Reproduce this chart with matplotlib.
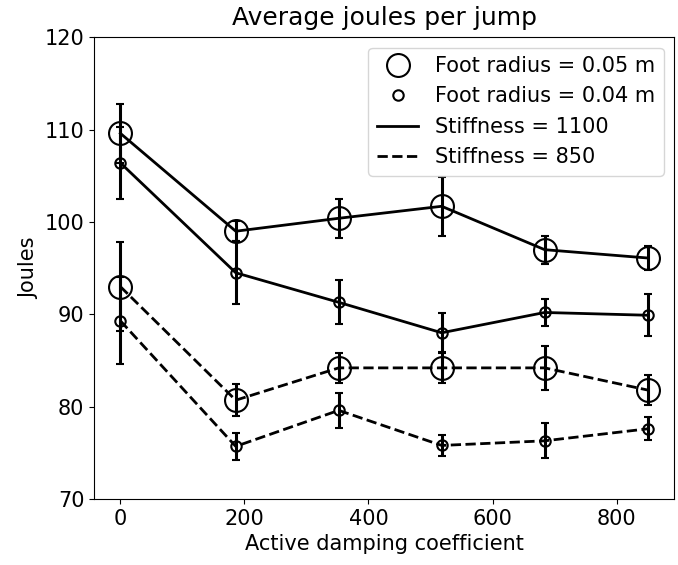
import matplotlib
matplotlib.use("Agg")
import matplotlib.pyplot as plt
from matplotlib.lines import Line2D

damping = [0, 186, 352, 518, 684, 850]

# Stiffness 1100
k1100_r05 = [109.6, 99.0, 100.4, 101.7, 97.0, 96.1]
k1100_r05_err = [3.2, 1.1, 2.1, 3.2, 1.5, 1.3]
k1100_r04 = [106.4, 94.5, 91.3, 88.0, 90.2, 89.9]
k1100_r04_err = [3.9, 3.4, 2.4, 2.1, 1.5, 2.3]

# Stiffness 850
k850_r05 = [93.0, 80.7, 84.2, 84.2, 84.2, 81.8]
k850_r05_err = [4.8, 1.7, 1.6, 1.6, 2.4, 1.6]
k850_r04 = [89.3, 75.7, 79.6, 75.8, 76.3, 77.6]
k850_r04_err = [4.7, 1.5, 1.9, 1.15, 1.9, 1.25]

plt.rcParams['font.family'] = ['DejaVu Sans']
fig = plt.figure(figsize=(6.78, 5.65), dpi=100)
ax = fig.add_axes([94/678, 1-499/565, (674-94)/678, (499-37.3)/565])

big_ms = 16.5
small_ms = 7.5
common = dict(color='black', mfc='none', mec='black', mew=1.5, lw=2,
              elinewidth=2.2, capsize=3, capthick=2.2)

ax.errorbar(damping, k1100_r05, yerr=k1100_r05_err, fmt='o-', ms=big_ms, **common)
ax.errorbar(damping, k1100_r04, yerr=k1100_r04_err, fmt='o-', ms=small_ms, **common)
ax.errorbar(damping, k850_r05, yerr=k850_r05_err, fmt='o--', ms=big_ms, **common)
ax.errorbar(damping, k850_r04, yerr=k850_r04_err, fmt='o--', ms=small_ms, **common)

ax.set_ylim(70, 120)
ax.set_yticks([70, 80, 90, 100, 110, 120])
ax.set_xticks([0, 200, 400, 600, 800])
ax.tick_params(labelsize=15)
ax.set_xlabel('Active damping coefficient', fontsize=15)
ax.set_ylabel('Joules', fontsize=15)
ax.set_title('Average joules per jump', fontsize=18, pad=9)

handles = [
    Line2D([], [], marker='o', ls='none', ms=big_ms, mfc='none', mec='black', mew=1.5),
    Line2D([], [], marker='o', ls='none', ms=small_ms, mfc='none', mec='black', mew=1.5),
    Line2D([], [], color='black', lw=2, ls='-'),
    Line2D([], [], color='black', lw=2, ls='--'),
]
labels = ['Foot radius = 0.05 m', 'Foot radius = 0.04 m', 'Stiffness = 1100', 'Stiffness = 850']
ax.legend(handles, labels, loc='upper right', fontsize=15)

fig.savefig('out.png', dpi=100)
